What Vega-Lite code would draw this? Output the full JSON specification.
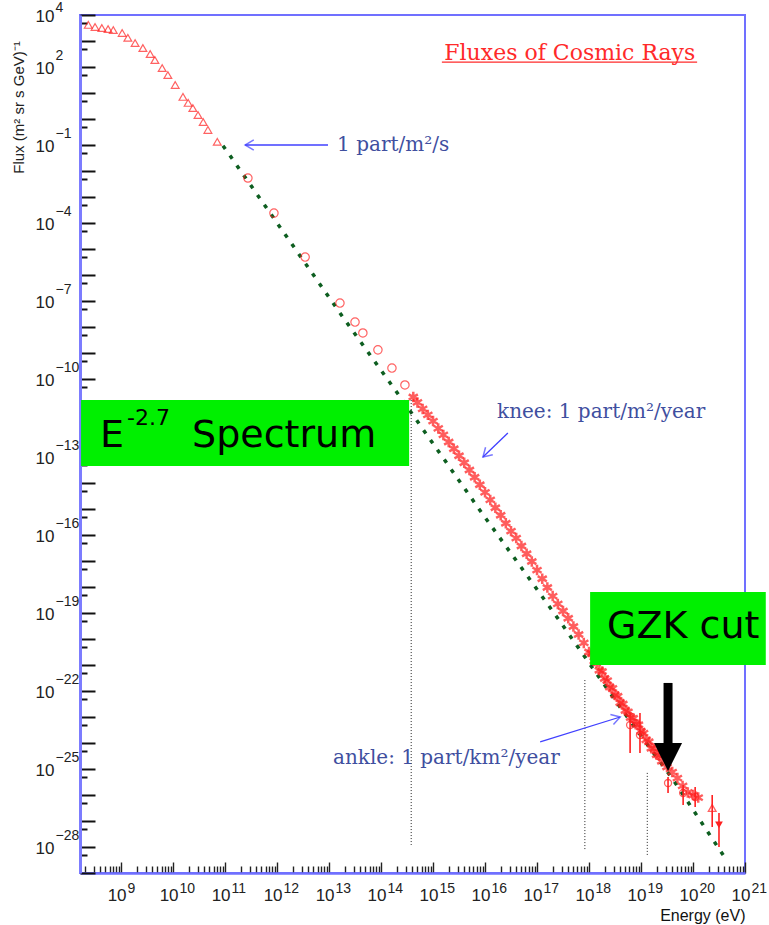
{
  "$schema": "https://vega.github.io/schema/vega-lite/v6.json",
  "width": 665,
  "height": 858,
  "autosize": {"type": "none"},
  "padding": {"left": 80, "top": 15, "right": 24, "bottom": 52},
  "background": "white",
  "config": {"view": {"stroke": "#7070ff", "strokeWidth": 2}, "axis": {"grid": false}},
  "resolve": {"axis": {"x": "independent", "y": "independent"}},
  "datasets": {
    "green": [
      {"E": 9.12e10, "F": 9.33e-2}, {"E": 1.15e11, "F": 4.90e-2}, {"E": 1.55e12, "F": 2.88e-5},
      {"E": 1.62e13, "F": 3.47e-8}, {"E": 2.34e14, "F": 2.04e-11}, {"E": 7.41e15, "F": 1.10e-15},
      {"E": 2.40e17, "F": 7.08e-20}, {"E": 3.47e18, "F": 3.47e-23}, {"E": 4.17e19, "F": 3.80e-26},
      {"E": 3.80e20, "F": 4.90e-29}
    ],
    "tri": [
      {"E": 2.34e8, "F": 4.17e3}, {"E": 3.16e8, "F": 3.47e3}, {"E": 4.27e8, "F": 3.16e3},
      {"E": 5.62e8, "F": 2.88e3}, {"E": 7.08e8, "F": 2.63e3}, {"E": 1.05e9, "F": 2.04e3},
      {"E": 1.35e9, "F": 1.32e3}, {"E": 1.86e9, "F": 832}, {"E": 2.63e9, "F": 537},
      {"E": 3.63e9, "F": 316}, {"E": 4.47e9, "F": 186}, {"E": 6.17e9, "F": 91.2},
      {"E": 7.94e9, "F": 49.0}, {"E": 1.10e10, "F": 20.4}, {"E": 1.55e10, "F": 7.08},
      {"E": 1.95e10, "F": 4.17}, {"E": 2.40e10, "F": 2.63}, {"E": 3.02e10, "F": 1.41},
      {"E": 3.80e10, "F": 0.759}, {"E": 4.68e10, "F": 0.380}, {"E": 7.08e10, "F": 0.132}
    ],
    "circ": [
      {"E": 2.75e11, "F": 5.37e-3}, {"E": 8.71e11, "F": 2.40e-4}, {"E": 3.47e12, "F": 4.90e-6},
      {"E": 1.62e13, "F": 8.32e-8}, {"E": 3.16e13, "F": 1.55e-8}, {"E": 4.47e13, "F": 5.89e-9},
      {"E": 8.71e13, "F": 1.32e-9}, {"E": 1.62e14, "F": 2.63e-10}, {"E": 2.88e14, "F": 5.89e-11}
    ],
    "star": [
      {"E": 4.17e14, "F": 2.04e-11}, {"E": 5.01e14, "F": 1.26e-11}, {"E": 6.31e14, "F": 7.08e-12},
      {"E": 7.94e14, "F": 4.17e-12}, {"E": 1.00e15, "F": 2.40e-12}, {"E": 1.26e15, "F": 1.26e-12},
      {"E": 1.58e15, "F": 7.08e-13}, {"E": 2.00e15, "F": 3.80e-13}, {"E": 2.51e15, "F": 2.09e-13},
      {"E": 3.16e15, "F": 1.12e-13}, {"E": 3.98e15, "F": 6.03e-14}, {"E": 5.01e15, "F": 3.16e-14},
      {"E": 6.31e15, "F": 1.66e-14}, {"E": 7.94e15, "F": 8.51e-15}, {"E": 1.00e16, "F": 4.37e-15},
      {"E": 1.26e16, "F": 2.24e-15}, {"E": 1.58e16, "F": 1.12e-15}, {"E": 2.00e16, "F": 5.75e-16},
      {"E": 2.51e16, "F": 2.82e-16}, {"E": 3.16e16, "F": 1.41e-16}, {"E": 3.98e16, "F": 7.59e-17},
      {"E": 5.01e16, "F": 3.80e-17}, {"E": 6.31e16, "F": 1.91e-17}, {"E": 7.94e16, "F": 9.55e-18},
      {"E": 1.00e17, "F": 4.47e-18}, {"E": 1.26e17, "F": 2.09e-18}, {"E": 1.58e17, "F": 9.55e-19},
      {"E": 2.00e17, "F": 4.47e-19}, {"E": 2.51e17, "F": 2.24e-19}, {"E": 3.16e17, "F": 1.20e-19},
      {"E": 3.98e17, "F": 6.31e-20}, {"E": 5.01e17, "F": 3.02e-20}, {"E": 6.31e17, "F": 1.48e-20},
      {"E": 7.94e17, "F": 7.08e-21}, {"E": 1.00e18, "F": 3.16e-21}, {"E": 1.26e18, "F": 1.41e-21},
      {"E": 1.58e18, "F": 6.31e-22}, {"E": 2.00e18, "F": 3.02e-22}, {"E": 2.51e18, "F": 1.41e-22},
      {"E": 3.16e18, "F": 7.08e-23}, {"E": 3.98e18, "F": 3.55e-23}, {"E": 5.01e18, "F": 1.78e-23},
      {"E": 6.31e18, "F": 9.55e-24}, {"E": 7.94e18, "F": 5.25e-24}, {"E": 1.00e19, "F": 2.82e-24},
      {"E": 1.26e19, "F": 1.32e-24}, {"E": 1.58e19, "F": 6.31e-25}, {"E": 2.00e19, "F": 3.55e-25},
      {"E": 2.51e19, "F": 2.00e-25}, {"E": 3.16e19, "F": 1.20e-25}, {"E": 3.98e19, "F": 7.59e-26},
      {"E": 5.01e19, "F": 4.47e-26}, {"E": 6.31e19, "F": 2.24e-26}, {"E": 7.94e19, "F": 1.26e-26},
      {"E": 1.00e20, "F": 1.00e-26}, {"E": 1.26e20, "F": 7.94e-27},
      {"E": 1.12e18, "F": 2.82e-21}, {"E": 1.41e18, "F": 1.26e-21}, {"E": 1.78e18, "F": 5.62e-22},
      {"E": 2.24e18, "F": 2.51e-22}, {"E": 2.82e18, "F": 1.26e-22}, {"E": 3.55e18, "F": 6.31e-23},
      {"E": 4.47e18, "F": 3.16e-23}, {"E": 5.62e18, "F": 1.58e-23}, {"E": 7.08e18, "F": 8.91e-24},
      {"E": 8.91e18, "F": 5.01e-24}, {"E": 1.12e19, "F": 2.40e-24}, {"E": 1.41e19, "F": 1.12e-24},
      {"E": 1.78e19, "F": 6.03e-25}, {"E": 2.24e19, "F": 3.31e-25}
    ],
    "errbar": [
      {"E": 6.17e18, "F": 4.17e-25, "F2": 1.41e-23}, {"E": 9.55e18, "F": 4.17e-25, "F2": 1.41e-23},
      {"E": 3.31e19, "F": 1.20e-26, "F2": 4.90e-26}, {"E": 6.46e19, "F": 4.17e-27, "F2": 2.40e-26},
      {"E": 1.10e20, "F": 3.47e-27, "F2": 2.04e-26}, {"E": 2.34e20, "F": 5.89e-28, "F2": 1.00e-26},
      {"E": 3.16e20, "F": 1.00e-28, "F2": 2.04e-27}
    ],
    "errcirc": [
      {"E": 6.17e18, "F": 4.90e-24}, {"E": 9.55e18, "F": 2.04e-24}, {"E": 3.31e19, "F": 2.88e-26},
      {"E": 6.46e19, "F": 1.20e-26}, {"E": 1.10e20, "F": 8.32e-27}
    ],
    "vlines": [
      {"E": 3.80e14, "F": 1.55e-11, "F2": 1.20e-28},
      {"E": 8.32e17, "F": 2.63e-22, "F2": 7.59e-29},
      {"E": 1.32e19, "F": 7.08e-26, "F2": 4.17e-29}
    ],
    "boxes": [
      {"E": 1.70e8, "E2": 3.47e14, "F": 1.55e-11, "F2": 4.47e-14},
      {"E": 1.05e18, "E2": 2.51e21, "F": 6.46e-19, "F2": 1.00e-21}
    ],
    "bigtext": [
      {"E": 3.94e8, "F": 2.43e-13, "label": "E"},
      {"E": 2.32e10, "F": 2.43e-13, "label": "Spectrum"},
      {"E": 2.22e18, "F": 1.10e-20, "label": "GZK cut"}
    ],
    "bluetext": [
      {"E": 1.43e13, "F": 0.1, "label": "1 part/m²/s"},
      {"E": 1.70e16, "F": 5.37e-12, "label": "knee: 1 part/m²/year"},
      {"E": 1.19e13, "F": 2.63e-25, "label": "ankle: 1 part/km²/year"}
    ],
    "arrows": [
      {"E": 9.55e12, "F": 0.1, "E2": 2.43e11, "F2": 0.1},
      {"E": 2.75e16, "F": 8.32e-13, "E2": 9.12e15, "F2": 1.0e-13},
      {"E": 1.15e17, "F": 1.10e-24, "E2": 3.98e18, "F2": 1.0e-23}
    ]
  },
  "encoding": {
    "x": {"field": "E", "type": "quantitative", "scale": {"type": "log", "domain": [1.622e8, 1e21], "nice": false}, "axis": null},
    "y": {"field": "F", "type": "quantitative", "scale": {"type": "log", "domain": [1e-29, 1e4], "nice": false}, "axis": null}
  },
  "layer": [
    {
      "data": {"name": "green"},
      "mark": {"type": "line", "color": "#0d5e20", "strokeWidth": 3.5, "strokeDash": [4, 8]},
      "encoding": {
        "x": {
          "field": "E", "type": "quantitative",
          "scale": {"type": "log", "domain": [1.622e8, 1e21], "nice": false},
          "axis": {
            "orient": "bottom",
            "title": "Energy (eV)", "titleFont": "Liberation Sans", "titleFontSize": 16, "titleFontWeight": "normal",
            "titleColor": "#111111", "titleAnchor": "end", "titleAlign": "right", "titleX": 665, "titleY": 42, "titleBaseline": "middle",
            "values": [2e8,3e8,4e8,5e8,6e8,7e8,8e8,9e8,
              1e9,2e9,3e9,4e9,5e9,6e9,7e9,8e9,9e9,
              1e10,2e10,3e10,4e10,5e10,6e10,7e10,8e10,9e10,
              1e11,2e11,3e11,4e11,5e11,6e11,7e11,8e11,9e11,
              1e12,2e12,3e12,4e12,5e12,6e12,7e12,8e12,9e12,
              1e13,2e13,3e13,4e13,5e13,6e13,7e13,8e13,9e13,
              1e14,2e14,3e14,4e14,5e14,6e14,7e14,8e14,9e14,
              1e15,2e15,3e15,4e15,5e15,6e15,7e15,8e15,9e15,
              1e16,2e16,3e16,4e16,5e16,6e16,7e16,8e16,9e16,
              1e17,2e17,3e17,4e17,5e17,6e17,7e17,8e17,9e17,
              1e18,2e18,3e18,4e18,5e18,6e18,7e18,8e18,9e18,
              1e19,2e19,3e19,4e19,5e19,6e19,7e19,8e19,9e19,
              1e20,2e20,3e20,4e20,5e20,6e20,7e20,8e20,9e20,
              1e21],
            "labelExpr": "abs(log(datum.value)/LN10 - round(log(datum.value)/LN10)) < 0.01 ? '10' : ''",
            "labelFont": "Liberation Sans", "labelFontSize": 17, "labelColor": "#222222", "labelPadding": 25,
            "labelAlign": "right", "labelOffset": 5,
            "labelBaseline": "top", "labelFlush": false, "labelOverlap": false, "labelBound": false,
            "tickSize": {"condition": {"test": "abs(log(datum.value)/LN10 - round(log(datum.value)/LN10)) < 0.01", "value": -11}, "value": -7},
            "tickColor": "#222222", "tickWidth": 1.4,
            "domainColor": "#7070ff", "domainWidth": 2.5
          }
        },
        "y": {
          "field": "F", "type": "quantitative",
          "scale": {"type": "log", "domain": [1e-29, 1e4], "nice": false},
          "axis": {
            "orient": "left",
            "title": "Flux (m² sr s GeV)⁻¹", "titleFont": "Liberation Sans", "titleFontSize": 15, "titleFontWeight": "normal",
            "titleColor": "#222222", "titleX": -62, "titleY": 92, "titleAngle": -90, "titleAlign": "center", "titleBaseline": "middle",
            "values": [1e-29,5e-29,1e-28,5e-28,1e-27,5e-27,1e-26,5e-26,1e-25,5e-25,1e-24,5e-24,1e-23,5e-23,1e-22,5e-22,
              1e-21,5e-21,1e-20,5e-20,1e-19,5e-19,1e-18,5e-18,1e-17,5e-17,1e-16,5e-16,1e-15,5e-15,1e-14,5e-14,
              1e-13,5e-13,1e-12,5e-12,1e-11,5e-11,1e-10,5e-10,1e-9,5e-9,1e-8,5e-8,1e-7,5e-7,1e-6,5e-6,
              1e-5,5e-5,1e-4,5e-4,1e-3,5e-3,1e-2,5e-2,1e-1,5e-1,1,5,10,50,100,500,1000,5000,10000],
            "labelExpr": "abs(log(datum.value)/LN10 - round(log(datum.value)/LN10)) < 0.01 && (round(log(datum.value)/LN10) == 4 || (round(log(datum.value)/LN10) + 30) % 3 == 2) ? '10' : ''",
            "labelFont": "Liberation Sans", "labelFontSize": 17, "labelColor": "#222222", "labelPadding": 41,
            "labelAlign": "right", "labelBaseline": "middle", "labelOffset": 1,
            "labelOverlap": false, "labelBound": false, "labelFlush": false,
            "tickSize": {"condition": {"test": "abs(log(datum.value)/LN10 - round(log(datum.value)/LN10)) < 0.01", "value": -15}, "value": -7},
            "tickColor": "#111111", "tickWidth": 2,
            "domainColor": "#7c7cff", "domainWidth": 3
          }
        }
      }
    },
    {
      "data": {"name": "tri"},
      "mark": {"type": "point", "shape": "triangle-up", "filled": false, "color": "#ff2020", "size": 60, "strokeWidth": 1.2},
      "encoding": {
        "x": {
          "field": "E", "type": "quantitative",
          "scale": {"type": "log", "domain": [1.622e8, 1e21], "nice": false},
          "axis": {
            "orient": "bottom", "title": null, "domain": false, "ticks": false,
            "values": [1e9,1e10,1e11,1e12,1e13,1e14,1e15,1e16,1e17,1e18,1e19,1e20,1e21],
            "labelExpr": "replace(toString(round(log(datum.value)/LN10)), '-', '−')",
            "labelFont": "Liberation Sans", "labelFontSize": 14, "labelColor": "#222222", "labelPadding": 8,
            "labelAlign": "left", "labelOffset": 6, "labelBaseline": "top",
            "labelFlush": false, "labelOverlap": false, "labelBound": false
          }
        },
        "y": {
          "field": "F", "type": "quantitative",
          "scale": {"type": "log", "domain": [1e-29, 1e4], "nice": false},
          "axis": {
            "orient": "left", "title": null, "domain": false, "ticks": false,
            "values": [1e4,1e2,1e-1,1e-4,1e-7,1e-10,1e-13,1e-16,1e-19,1e-22,1e-25,1e-28],
            "labelExpr": "replace(toString(round(log(datum.value)/LN10)), '-', '−')",
            "labelFont": "Liberation Sans", "labelFontSize": 14, "labelColor": "#222222", "labelPadding": 25,
            "labelAlign": "left", "labelBaseline": "middle",
            "labelOffset": {"condition": {"test": "datum.value > 1000", "value": -8}, "value": -12},
            "labelFlush": false, "labelOverlap": false, "labelBound": false
          }
        }
      }
    },
    {"data": {"name": "circ"}, "mark": {"type": "point", "shape": "circle", "filled": false, "color": "#ff2020", "size": 70, "strokeWidth": 1.2}, "encoding": {}},
    {"data": {"name": "star"}, "mark": {"type": "point", "shape": "M0,-1L0,1M-0.87,-0.5L0.87,0.5M-0.87,0.5L0.87,-0.5", "filled": false, "color": "#ff1a1a", "size": 110, "strokeWidth": 2.5}, "encoding": {}},
    {"data": {"name": "errbar"}, "mark": {"type": "rule", "color": "#ff2020", "strokeWidth": 1.6}, "encoding": {"y2": {"field": "F2"}}},
    {"data": {"name": "errcirc"}, "mark": {"type": "point", "shape": "circle", "filled": false, "color": "#ff2020", "size": 50, "strokeWidth": 1.3}, "encoding": {}},
    {"data": {"values": [{"E": 2.34e20, "F": 3.16e-27}]}, "mark": {"type": "point", "shape": "triangle-up", "filled": false, "color": "#ff2020", "size": 60, "strokeWidth": 1.3}, "encoding": {}},
    {"data": {"values": [{"E": 3.16e20, "F": 7.08e-28}]}, "mark": {"type": "point", "shape": "triangle-down", "filled": true, "color": "#ff2020", "size": 60, "opacity": 1}, "encoding": {}},
    {"data": {"name": "vlines"}, "mark": {"type": "rule", "color": "#222222", "strokeWidth": 1, "strokeDash": [1, 2]}, "encoding": {"y2": {"field": "F2"}}},
    {"data": {"name": "boxes"}, "mark": {"type": "rect", "color": "#00f000", "opacity": 1}, "encoding": {"x2": {"field": "E2"}, "y2": {"field": "F2"}}},
    {"data": {"name": "bigtext"}, "mark": {"type": "text", "font": "DejaVu Sans", "fontSize": 38, "align": "left", "baseline": "alphabetic", "color": "#000000"}, "encoding": {"text": {"field": "label"}}},
    {"data": {"values": [{"E": 1.30e9, "F": 1.70e-12, "label": "-2.7"}]}, "mark": {"type": "text", "font": "DejaVu Sans", "fontSize": 22, "align": "left", "baseline": "alphabetic", "color": "#000000"}, "encoding": {"text": {"field": "label"}}},
    {"data": {"name": "bluetext"}, "mark": {"type": "text", "font": "DejaVu Serif", "fontSize": 20, "align": "left", "baseline": "middle", "color": "#3f4f9f"}, "encoding": {"text": {"field": "label"}}},
    {"data": {"name": "arrows"}, "mark": {"type": "rule", "color": "#4040ff", "strokeWidth": 1.3}, "encoding": {"x2": {"field": "E2"}, "y2": {"field": "F2"}}},
    {"data": {"values": [{"E": 2.43e11, "F": 0.1}]}, "mark": {"type": "point", "shape": "M-1,-0.6L0,0L-1,0.6", "filled": false, "color": "#4040ff", "size": 300, "strokeWidth": 1.5, "angle": 180}, "encoding": {}},
    {"data": {"values": [{"E": 9.12e15, "F": 1.0e-13}]}, "mark": {"type": "point", "shape": "M-1,-0.6L0,0L-1,0.6", "filled": false, "color": "#4040ff", "size": 300, "strokeWidth": 1.5, "angle": 136}, "encoding": {}},
    {"data": {"values": [{"E": 3.98e18, "F": 1.0e-23}]}, "mark": {"type": "point", "shape": "M-1,-0.6L0,0L-1,0.6", "filled": false, "color": "#4040ff", "size": 300, "strokeWidth": 1.5, "angle": 343}, "encoding": {}},
    {"data": {"values": [{"E": 4.27e17, "F": 347, "label": "Fluxes of Cosmic Rays"}]}, "mark": {"type": "text", "font": "DejaVu Serif", "fontSize": 22, "align": "center", "baseline": "middle", "color": "#ff2a2a"}, "encoding": {"text": {"field": "label"}}},
    {"data": {"values": [{"E": 1.48e15, "E2": 1.20e20, "F": 155}]}, "mark": {"type": "rule", "color": "#ff2a2a", "strokeWidth": 1.3}, "encoding": {"x2": {"field": "E2"}}},
    {"data": {"values": [{"E": 3.31e19, "F": 2.04e-22, "F2": 8.32e-25}]}, "mark": {"type": "rule", "color": "#000000", "strokeWidth": 9}, "encoding": {"y2": {"field": "F2"}}},
    {"data": {"values": [{"E": 3.31e19, "F": 2.88e-25}]}, "mark": {"type": "point", "shape": "M-1,-1L1,-1L0,1Z", "filled": true, "color": "#000000", "size": 784, "opacity": 1}, "encoding": {}}
  ]
}
